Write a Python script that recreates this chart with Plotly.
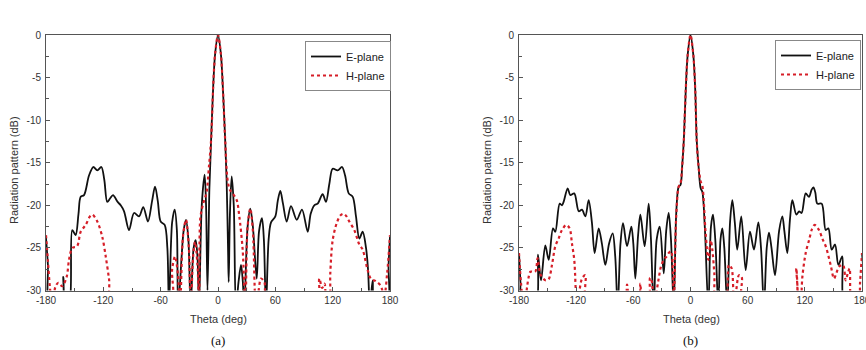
import plotly.graph_objects as go

# ---------------- data (theta in deg, pattern in dB) ----------------
# values below -30 dB lie outside the axis range (deep nulls)
theta_a_E = [-180, -178, -176, -163.5, -161.9, -159.5, -156, -152.5, -149, -146, -143.7, -140.2, -135,
             -130.5, -126.3, -122.1, -119, -115.9, -113, -109.9, -105, -101.8, -98.3, -93.1, -87.9,
             -82.7, -78.2, -73.3, -69, -65.9, -63, -60, -55.8, -53, -51.3, -48, -45.3, -43, -41.7,
             -36, -33.5, -31, -28.6, -25.5, -23.4, -21.5, -19.9, -17, -14, -12.5, -11, -9, -7.2,
             -5, -3, 0, 3, 5, 7.5, 9, 10.5, 11.2, 12.5, 14.3, 16.5, 18.8, 21.5, 24.1, 26, 27.5,
             31, 33.8, 36.5, 40.5, 43, 46, 48, 50.2, 53, 55.5, 60, 62.5, 65.2, 68, 71.9, 76.4,
             82.4, 87.9, 93.9, 97, 100.8, 104.3, 109.5, 113, 116.5, 120, 125.2, 129.8, 133,
             136.8, 141, 144.4, 147.9, 151.4, 154.9, 157, 159, 161.8, 164.6, 177, 178.5, 180]
db_a_E = [-23.8, -27, -32, -32, -28.4, -32, -32, -22.9, -23.5, -21, -19.0, -18.8, -16.5,
          -15.5, -15.9, -15.5, -17, -19.6, -19.2, -18.8, -19.6, -20.0, -20.7, -22.9, -20.9,
          -21.3, -20.2, -21.9, -19.5, -17.8, -19.5, -21.9, -22.3, -25, -32, -22, -20.5, -23, -32,
          -23, -21.7, -24, -32, -25, -24.1, -26, -32, -20, -16.4, -20, -30, -18, -12.3,
          -6, -2.2, 0, -2.2, -6, -12.3, -17, -25, -29, -21, -16.6, -20, -32, -29, -27, -29, -32,
          -22.5, -20.4, -22.5, -28.6, -23, -21.5, -24, -32, -24, -22.0, -21.3, -19.5, -18.3, -19.8, -21.9, -20.1,
          -21.7, -20.5, -23.1, -21, -20.0, -19.8, -18.7, -19.6, -17.5, -15.7, -15.9, -15.5, -16.5,
          -18.6, -19.0, -21.3, -23.9, -23.1, -25.0, -27.5, -32, -28.8, -32, -32, -27, -23.7]

theta_a_H = [-180, -178, -176, -173.4, -170, -167, -163, -158.4, -155.9, -152.5, -147.5, -143.7,
             -138.5, -134, -131.5, -126.3, -121.1, -117.5, -114, -110.6, -50, -48, -45, -42, -39.8,
             -36.5, -33.5, -30.5, -28.6, -26, -24, -21.5, -19.6, -18.5, -15.5, -12, -9.5, -7.2,
             -5, -3, 0, 3, 5, 7.5, 10, 12.5, 15.4, 19.6, 22.3, 25.8, 28.6, 31, 33.8, 36.5, 39.7,
             42.5, 45, 48.5, 52, 103, 106, 109, 111.5, 114, 116.5, 117.5, 120, 124.2, 128, 131.5,
             134.5, 137.4, 142.6, 147.9, 151.4, 156.6, 160, 165, 170, 174, 177, 180]
db_a_H = [-23.5, -26.5, -29.5, -32, -29.5, -29.1, -29.5, -28.4, -26.4, -25.0, -24.8, -23.1,
          -22.3, -21.3, -21.1, -21.9, -23.7, -26.0, -28.7, -32, -32, -27.5, -26, -28, -32,
          -23.5, -21.7, -25, -32, -26, -24.3, -27, -32, -21.5, -19.8, -18.5, -15.5, -12.3,
          -6, -2.2, 0, -2.2, -6, -12.3, -17, -18.2, -18.6, -19.4, -21.3, -25.2, -32, -22.5, -20.4, -23, -32,
          -30, -28.6, -29, -32, -32, -28.6, -29.7, -29.2, -32, -32, -28, -24.1, -22.1, -21.2, -21.0,
          -21.3, -21.9, -22.9, -24.6, -25.2, -27.6, -28.6, -28.9, -29.4, -30.5, -28, -23.5]

theta_b_E = [-180, -178.5, -177, -163, -160.1, -156.9, -152.4, -148.8, -144.3, -141.9, -137.3, -134.9,
             -133.2, -128.9, -126.2, -122, -117.3, -113.9, -110.4, -106.9, -103.5, -100.6, -96.4, -93,
             -89.4, -85.5, -81.7, -79, -76.4, -73.5, -70.8, -66.6, -62.1, -60, -57.9, -55, -52.6,
             -48.1, -43.9, -41.5, -38.6, -35.5, -32.3, -28.1, -25.5, -22.9, -20.5, -17.6, -15, -12.4,
             -10.5, -8.8, -7, -5, -3, 0, 3, 5, 6.5, 8.5, 10.7, 12.4, 15, 18.7, 21.5, 23.6, 26, 29.2,
             31.5, 33.4, 35.5, 38.6, 41.5, 43.9, 46.5, 49.1, 53.3, 57.9, 62.4, 66.6, 71.2, 74, 77.1,
             80, 82.4, 85, 88.7, 93, 96.4, 98.5, 101.6, 104.5, 106.9, 111.1, 113.9, 116.6, 120.9,
             124.4, 127, 129, 131, 133.1, 137.7, 141.9, 144.7, 148.2, 151.7, 155.2, 159.3, 162.2,
             178.6, 180]
db_b_E = [-25.6, -29, -32, -32, -25.8, -28.8, -24.7, -26.4, -22.7, -23.1, -19.8, -20.0,
          -19.6, -18.0, -18.8, -18.6, -20.7, -20.5, -21.3, -19.4, -22, -25.6, -22.7, -24.5,
          -27.0, -24.5, -23.3, -26, -32, -24.5, -22.1, -24.8, -22.5, -24.5, -28.6, -23.5, -21.1,
          -24.8, -19.8, -24, -32, -24, -22.5, -28, -23, -20.9, -24, -32, -21, -17.8,
          -17.6, -15.5, -12.3, -6.5, -2.4, 0, -2.4, -6.5, -12.3, -15.5, -18.0, -18.4, -22.5, -32, -22.5, -21.1, -24, -32,
          -24, -22.7, -25, -32, -22, -19.4, -22, -25.2, -21.3, -27.6, -23.1, -25.2, -22.0, -25, -32,
          -25, -23.2, -25, -28.2, -23, -21.3, -23, -25.6, -21.5, -19.4, -21.1, -20.7, -20.9, -18.6,
          -19.0, -18.2, -17.9, -18.5, -19.8, -19.8, -22.9, -22.7, -25.2, -24.6, -27.0, -26.0, -32,
          -32, -25.6]

theta_b_H = [-180, -178, -175, -170, -168, -163, -160.5, -158, -155.9, -152.4, -149, -145.4, -141.9,
             -138.4, -134.9, -130.4, -126.9, -124.4, -122, -119.1, -116.5, -113.9, -110.4, -108.6,
             -70, -66.6, -63, -55, -52.6, -50, -44, -42.5, -40.5, -38.6, -34, -31, -28.1, -25, -22.9,
             -20.4, -18.5, -17.6, -15, -12.4, -10.5, -8.8, -7, -5, -3, 0, 3, 5, 6.5, 8.5, 10.7,
             12.4, 15.9, 18.7, 21.2, 22.9, 25, 27.1, 36, 40.4, 43.2, 45.6, 48, 50.9, 53.7, 55,
             108.6, 111, 113.9, 116, 117.4, 120.9, 124.4, 127.5, 130.3, 134.9, 138.3, 141.9, 147.1,
             150.6, 153, 155.9, 160.1, 162.9, 165, 167, 169.8, 176, 178, 180]
db_b_H = [-25.6, -29, -32, -28.5, -27.8, -27.8, -26.2, -28, -28.4, -28.8, -28.7, -27.0, -24.8,
          -23.9, -22.9, -22.3, -22.7, -24.5, -26.4, -32, -30, -28.6, -28.2, -32,
          -32, -29.3, -32, -32, -29.2, -32, -32, -28.5, -29, -32, -29, -27.2, -26.4, -26, -25.6,
          -25.4, -28, -32, -21.3, -17.8, -17.4, -15.5, -12.3, -6.5, -2.4, 0, -2.4, -6.5, -12.3, -15.5, -17.2,
          -17.7, -23.3, -26.4, -24.1, -25.2, -28, -32, -32, -27.0, -27.4, -32, -30, -28.2, -28.4, -32,
          -32, -27.4, -32, -31, -28.4, -25.6, -24.1, -22.8, -22.3, -22.9, -23.9, -24.8, -27.0,
          -28.6, -28, -27.2, -27.0, -28.8, -28, -27.4, -32, -32, -29, -25.6]

x_ticks = [-180, -120, -60, 0, 60, 120, 180]
y_ticks = [0, -5, -10, -15, -20, -25, -30]
series_names = ["E-plane", "H-plane"]
captions = ["(a)", "(b)"]

# ---------------- figure ----------------
W, H = 866, 350
E_COLOR = "#111111"
H_COLOR = "rgb(214,30,40)"
TXT = "#333333"
FONT = "Liberation Sans, Arial, sans-serif"

fig = go.Figure()

def add_pair(tE, dE, tH, dH, xa, ya, leg):
    fig.add_trace(go.Scatter(x=tE, y=dE, mode="lines", name=series_names[0],
                             line=dict(color=E_COLOR, width=1.8, shape="spline", smoothing=0.9),
                             xaxis=xa, yaxis=ya, legend=leg))
    fig.add_trace(go.Scatter(x=tH, y=dH, mode="lines", name=series_names[1],
                             line=dict(color=H_COLOR, width=2.2, dash="dot", shape="spline", smoothing=0.9),
                             xaxis=xa, yaxis=ya, legend=leg))

add_pair(theta_a_E, db_a_E, theta_a_H, db_a_H, "x", "y", "legend")
add_pair(theta_b_E, db_b_E, theta_b_H, db_b_H, "x2", "y2", "legend2")

ydom = [1 - 290.5 / H, 1 - 35 / H]

def xaxis_cfg(dom, anchor):
    return dict(domain=dom, anchor=anchor, range=[-180, 180], tickvals=x_ticks,
                ticktext=[str(v) for v in x_ticks], ticks="inside", ticklen=4, tickwidth=1,
                tickcolor="#555", showline=True, linecolor="#555", linewidth=1, mirror=True,
                showgrid=False, zeroline=False, tickfont=dict(family=FONT, size=10, color=TXT),
                minor=dict(dtick=30, tick0=-180, ticks="inside", ticklen=2.5, tickcolor="#555"),
                ticklabeloverflow="allow", automargin=False, fixedrange=True)

def yaxis_cfg(anchor):
    return dict(domain=ydom, anchor=anchor, range=[-30, 0], tickvals=y_ticks,
                ticktext=[str(v) for v in y_ticks], ticks="inside", ticklen=4, tickwidth=1,
                tickcolor="#555", showline=True, linecolor="#555", linewidth=1, mirror=True,
                showgrid=False, zeroline=False, tickfont=dict(family=FONT, size=10, color=TXT),
                minor=dict(dtick=2.5, tick0=0, ticks="inside", ticklen=2.5, tickcolor="#555"),
                ticklabelstandoff=2, automargin=False, fixedrange=True)

fig.update_layout(
    width=W, height=H, autosize=False, margin=dict(l=0, r=0, t=0, b=0, pad=0, autoexpand=False),
    paper_bgcolor="white", plot_bgcolor="white",
    xaxis=xaxis_cfg([46 / W, 390 / W], "y"),
    yaxis=yaxis_cfg("x"),
    xaxis2=xaxis_cfg([519 / W, 862 / W], "y2"),
    yaxis2=yaxis_cfg("x2"),
    legend=dict(x=305 / W, y=1 - 41 / H, xanchor="left", yanchor="top",
                bgcolor="white", bordercolor="#888", borderwidth=1,
                font=dict(family=FONT, size=11, color="#222"), itemwidth=30,
                tracegroupgap=0),
    legend2=dict(x=775 / W, y=1 - 40 / H, xanchor="left", yanchor="top",
                 bgcolor="white", bordercolor="#888", borderwidth=1,
                 font=dict(family=FONT, size=11, color="#222"), itemwidth=30,
                 tracegroupgap=0),
    showlegend=True,
)

ann = []
for xc in [14, 487]:
    ann.append(dict(text="Radiation pattern (dB)", x=xc / W, y=1 - 170 / H, xref="paper", yref="paper",
                    textangle=-90, showarrow=False, xanchor="center", yanchor="middle",
                    font=dict(family=FONT, size=11, color=TXT)))
for xc in [218, 691]:
    ann.append(dict(text="Theta (deg)", x=xc / W, y=1 - 319 / H, xref="paper", yref="paper",
                    showarrow=False, xanchor="center", yanchor="middle",
                    font=dict(family=FONT, size=11, color=TXT)))
for xc, cap in zip([218, 690], captions):
    ann.append(dict(text=cap, x=xc / W, y=1 - 340 / H, xref="paper", yref="paper",
                    showarrow=False, xanchor="center", yanchor="middle",
                    font=dict(family="Liberation Serif, Times New Roman, serif", size=13, color="#111")))
fig.update_layout(annotations=ann)

fig.write_html("out.html")
